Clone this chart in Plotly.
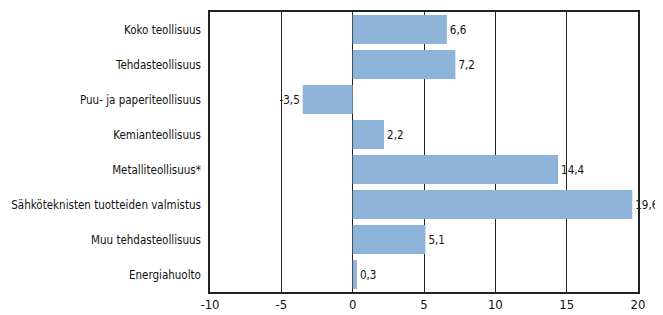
import plotly.graph_objects as go

categories = ["Koko teollisuus", "Tehdasteollisuus", "Puu- ja paperiteollisuus",
              "Kemianteollisuus", "Metalliteollisuus*",
              "Sähköteknisten tuotteiden valmistus", "Muu tehdasteollisuus", "Energiahuolto"]
values = [6.6, 7.2, -3.5, 2.2, 14.4, 19.6, 5.1, 0.3]
tick_vals = [-10, -5, 0, 5, 10, 15, 20]

labels = [f"{v:.1f}".replace(".", ",") for v in values]
FONT = "DejaVu Sans Condensed, Liberation Sans Narrow, sans-serif"

fig = go.Figure(go.Bar(
    x=values, y=categories, orientation="h",
    marker=dict(color="#8db3d9", line=dict(width=0)),
    text=labels, textposition="outside", cliponaxis=False,
    textfont=dict(family=FONT, size=11.5, color="#111"),
))
fig.update_layout(
    width=655, height=307,
    margin=dict(l=202, r=25, t=4, b=23, autoexpand=False),
    paper_bgcolor="white", plot_bgcolor="white",
    bargap=0.17, showlegend=False,
    font=dict(family=FONT, size=12, color="#111"),
    separators=", ",
)
fig.update_xaxes(range=[-10, 20], tickvals=tick_vals, ticktext=[str(t) for t in tick_vals],
                 showgrid=True, gridcolor="#222", gridwidth=1,
                 zeroline=True, zerolinecolor="#222", zerolinewidth=1,
                 showline=True, linecolor="#222", linewidth=1.5, mirror=True,
                 ticks="", automargin=False, tickfont=dict(family=FONT, size=13))
fig.update_yaxes(autorange="reversed", showgrid=False, showline=True, linecolor="#222",
                 linewidth=1.5, mirror=True, ticks="", ticklabelstandoff=5, automargin=False,
                 tickfont=dict(family=FONT, size=11.5))
fig.write_html("out.html")
